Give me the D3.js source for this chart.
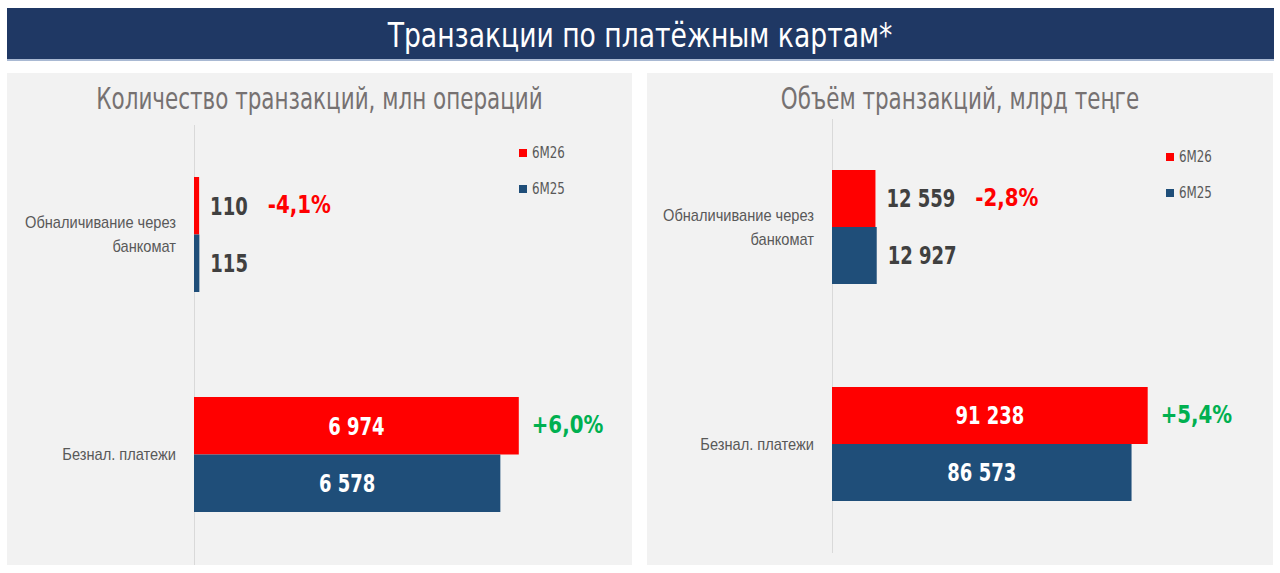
<!DOCTYPE html>
<html>
<head>
<meta charset="utf-8">
<style>
  body { margin: 0; background: #fff; }
  svg { font-family: "Liberation Sans Narrow", "DejaVu Sans Condensed", sans-serif; display: block; }
</style>
<title>Транзакции по платёжным картам</title>
</head>
<body>
<script src="https://cdn.jsdelivr.net/npm/d3@7"></script>
<script>

var categories = ["Обналичивание через банкомат", "Безнал. платежи"];
var series = ["6M26", "6M25"];
var seriesColors = ["#ff0000", "#1f4e79"];

var countTitle = "Количество транзакций, млн операций";
var count6M26 = [110, 6974];
var count6M25 = [115, 6578];
var countChange = ["-4,1%", "+6,0%"];

var volumeTitle = "Объём транзакций, млрд теңге";
var volume6M26 = [12559, 91238];
var volume6M25 = [12927, 86573];
var volumeChange = ["-2,8%", "+5,4%"];

var mainTitle = "Транзакции по платёжным картам*";

var locale = d3.formatLocale({decimal: ",", thousands: " ", grouping: [3], currency: ["", ""]});
var fmt = locale.format(",d");

// the source font is a tall condensed face, squeeze the fallback horizontally
function condense(sel, k) {
  sel.each(function() {
    var n = this.getComputedTextLength();
    this.__width = n * k;
    d3.select(this)
        .attr("textLength", n * k)
        .attr("lengthAdjust", "spacingAndGlyphs");
  });
}

var svg = d3.select("body").append("svg")
    .attr("width", 1280)
    .attr("height", 573);

// header band
svg.append("rect")
    .attr("x", 7).attr("y", 8)
    .attr("width", 1267).attr("height", 52)
    .attr("fill", "#1f3864");
svg.append("rect")
    .attr("x", 7).attr("y", 59)
    .attr("width", 1267).attr("height", 2)
    .attr("fill", "#a9b9d3");
svg.append("text")
    .text(mainTitle)
    .attr("x", 640).attr("y", 47)
    .attr("text-anchor", "middle")
    .attr("fill", "#fff")
    .attr("font-size", 34)
    .call(condense, 0.87);

var panels = [
  {x: 7, w: 625, title: countTitle, values: [count6M26, count6M25], change: countChange,
   axis: 194, width: 326, max: 7000, range: [124.5, 564.5], pad: 105 / 220, legend: [519, 149]},
  {x: 647, w: 626, title: volumeTitle, values: [volume6M26, volume6M25], change: volumeChange,
   axis: 832, width: 346, max: 100000, range: [118.5, 552.5], pad: 103 / 217, legend: [1166, 153]}
];

var catK = 0.86;

panels.forEach(function(p) {
  var g = svg.append("g");

  g.append("rect")
      .attr("x", p.x).attr("y", 73)
      .attr("width", p.w).attr("height", 492)
      .attr("fill", "#f2f2f2");

  g.append("text")
      .text(p.title)
      .attr("x", p.x + p.w / 2).attr("y", 109)
      .attr("text-anchor", "middle")
      .attr("fill", "#767171")
      .attr("font-size", 31)
      .call(condense, 0.77);

  var x = d3.scaleLinear()
      .domain([0, p.max])
      .range([p.axis, p.axis + p.width]);

  var y = d3.scaleBand()
      .domain(categories)
      .range(p.range)
      .paddingInner(p.pad)
      .paddingOuter(p.pad / 2);

  var ys = d3.scaleBand()
      .domain(series)
      .range([0, y.bandwidth()]);

  var yAxis = d3.axisLeft(y).tickSize(0).tickPadding(18);
  var ax = g.append("g")
      .attr("transform", `translate(${p.axis},0)`)
      .call(yAxis);
  ax.select(".domain").attr("stroke", "#d9d9d9");

  // category labels, wrapped into lines
  ax.selectAll(".tick").each(function(c) {
    var tick = d3.select(this);
    tick.select("text").remove();
    var probe = tick.append("text").attr("font-size", 17);
    var words = c.split(" "), lines = [], line = [];
    for (var w of words) {
      line.push(w);
      probe.text(line.join(" "));
      if (probe.node().getComputedTextLength() * catK > 160 && line.length > 1) {
        line.pop();
        lines.push(line.join(" "));
        line = [w];
      }
    }
    lines.push(line.join(" "));
    probe.remove();
    var lh = 24;
    lines.forEach(function(l, i) {
      tick.append("text")
          .text(l)
          .attr("x", -18)
          .attr("y", (i - (lines.length - 1) / 2) * lh)
          .attr("dy", "0.35em")
          .attr("text-anchor", "end")
          .attr("fill", "#595959")
          .attr("font-size", 17)
          .attr("font-family", null)
          .call(condense, catK);
    });
  });

  var rows = [];
  categories.forEach(function(c, ci) {
    series.forEach(function(s, si) {
      rows.push({cat: c, ci: ci, ser: s, si: si, value: p.values[si][ci]});
    });
  });

  g.selectAll(".bar").data(rows).enter().append("rect")
      .attr("class", "bar")
      .attr("x", x(0))
      .attr("y", d => y(d.cat) + ys(d.ser))
      .attr("width", d => x(d.value) - x(0))
      .attr("height", ys.bandwidth())
      .attr("fill", d => seriesColors[d.si]);

  g.selectAll(".val").data(rows).enter().append("text")
      .attr("class", "val")
      .text(d => fmt(d.value))
      .attr("font-size", 25)
      .attr("font-weight", "bold")
      .attr("dy", "0.35em")
      .attr("y", d => y(d.cat) + ys(d.ser) + ys.bandwidth() / 2)
      .call(condense, 0.8)
      .each(function(d) {
        var inside = (x(d.value) - x(0)) > 150;
        d3.select(this)
            .attr("x", inside ? (x(0) + x(d.value)) / 2 : x(d.value) + 11)
            .attr("text-anchor", inside ? "middle" : "start")
            .attr("fill", inside ? "#fff" : "#404040");
        d.labelEnd = inside ? x(d.value) : x(d.value) + 11 + this.__width;
        d.inside = inside;
      });

  // change labels next to the 6M26 bar
  categories.forEach(function(c, ci) {
    var d = rows.find(r => r.ci == ci && r.si == 0);
    var chg = p.change[ci];
    g.append("text")
        .text(chg)
        .attr("x", d.inside ? d.labelEnd + 13 : d.labelEnd + 20)
        .attr("y", y(c) + ys(d.ser) + ys.bandwidth() / 2)
        .attr("dy", "0.28em")
        .attr("font-size", 25)
        .attr("font-weight", "bold")
        .attr("fill", chg[0] == "-" ? "#ff0000" : "#00b050")
        .call(condense, 0.88);
  });

  // legend
  var lg = g.append("g")
      .attr("transform", `translate(${p.legend[0]},${p.legend[1]})`);
  series.forEach(function(s, i) {
    lg.append("rect")
        .attr("x", 0).attr("y", i * 36)
        .attr("width", 8).attr("height", 8)
        .attr("fill", seriesColors[i]);
    lg.append("text")
        .text(s)
        .attr("x", 13).attr("y", i * 36 + 4)
        .attr("dy", "0.35em")
        .attr("font-size", 15)
        .attr("fill", "#595959")
        .call(condense, 0.88);
  });
});

</script>
</body>
</html>
